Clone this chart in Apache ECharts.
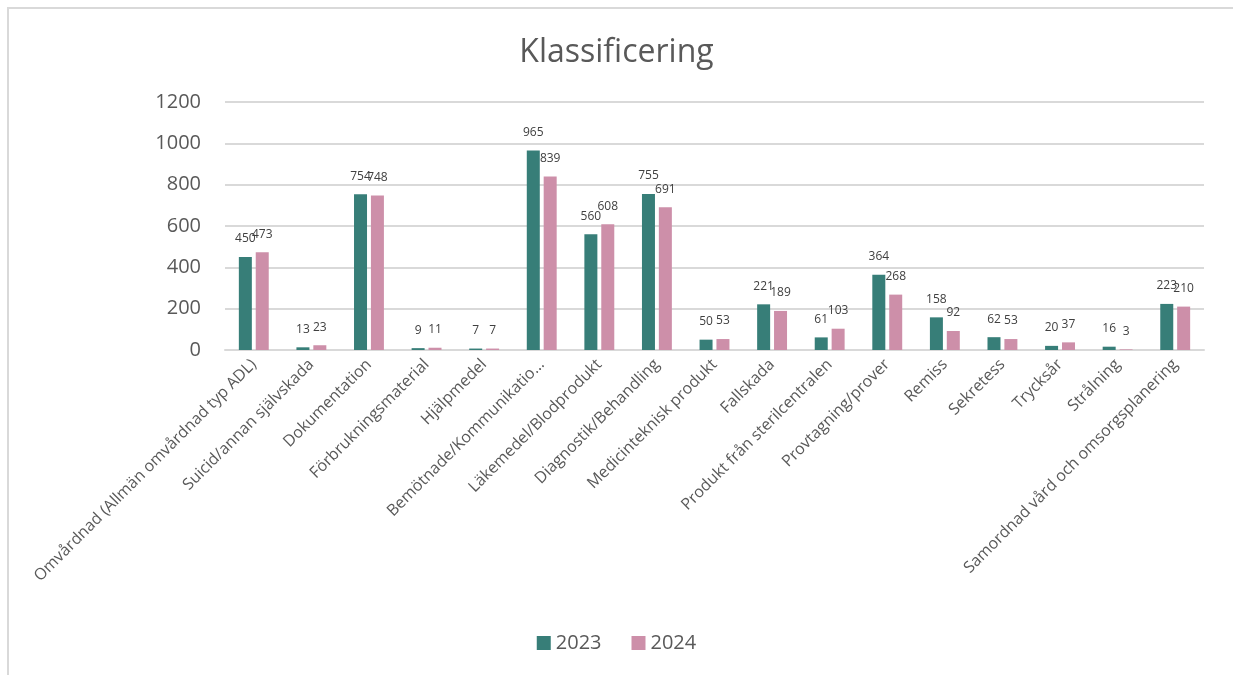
<!DOCTYPE html>
<html>
<head>
<meta charset="utf-8">
<title>Klassificering</title>
<script src="https://cdn.jsdelivr.net/npm/echarts@6/dist/echarts.min.js"></script>
<style type="text/css">
    html, body { margin: 0; padding: 0; background: #fff; }
    #frame {
        position: absolute; left: 7px; top: 7px;
        width: 1240px; height: 680px;
        border: 2px solid #d9d9d9;
    }
    #main { position: absolute; left: 0; top: 0; width: 1233px; height: 675px; }
</style>
</head>
<body>
<div id="frame"></div>
<div id="main"></div>
<script type="text/javascript">
    var categories = [
        'Omvårdnad (Allmän omvårdnad typ ADL)', 'Suicid/annan självskada', 'Dokumentation',
        'Förbrukningsmaterial', 'Hjälpmedel', 'Bemötnade/Kommunikatio…', 'Läkemedel/Blodprodukt',
        'Diagnostik/Behandling', 'Medicinteknisk produkt', 'Fallskada', 'Produkt från sterilcentralen',
        'Provtagning/prover', 'Remiss', 'Sekretess', 'Trycksår', 'Strålning',
        'Samordnad vård och omsorgsplanering'
    ];
    var values2023 = [450, 13, 754, 9, 7, 965, 560, 755, 50, 221, 61, 364, 158, 62, 20, 16, 223];
    var values2024 = [473, 23, 748, 11, 7, 839, 608, 691, 53, 189, 103, 268, 92, 53, 37, 3, 210];
    var yTicks = [0, 200, 400, 600, 800, 1000, 1200];

    var font = '"Open Sans", "DejaVu Sans", sans-serif';
    var myChart = echarts.init(document.getElementById('main'));

    var barLabel = {
        show: true,
        position: 'top',
        distance: 12,
        color: '#404040',
        fontSize: 12,
        fontFamily: font
    };

    myChart.setOption({
        animation: false,
        textStyle: { fontFamily: font },
        title: {
            text: 'Klassificering',
            left: 'center',
            top: 32,
            textStyle: { color: '#595959', fontSize: 32, fontWeight: 'normal', fontFamily: font }
        },
        legend: {
            data: ['2023', '2024'],
            left: 'center',
            top: 628,
            itemWidth: 14,
            itemHeight: 14,
            itemGap: 30,
            icon: 'rect',
            textStyle: { color: '#595959', fontSize: 20, fontFamily: font }
        },
        grid: { left: 225, right: 29, top: 102, bottom: 325 },
        xAxis: {
            type: 'category',
            data: categories,
            axisTick: { show: false },
            axisLine: { lineStyle: { color: '#d9d9d9', width: 2 } },
            axisLabel: {
                interval: 0,
                rotate: 45,
                margin: 12,
                color: '#595959',
                fontSize: 16,
                fontFamily: font
            }
        },
        yAxis: {
            type: 'value',
            min: yTicks[0],
            max: yTicks[yTicks.length - 1],
            interval: 200,
            axisLine: { show: false },
            axisTick: { show: false },
            splitLine: { lineStyle: { color: '#d9d9d9', width: 2 } },
            axisLabel: {
                color: '#595959', fontSize: 20, margin: 24, fontFamily: font,
                formatter: function (v) { return String(v); }
            }
        },
        series: [
            {
                name: '2023',
                type: 'bar',
                barWidth: 13,
                barGap: '30%',
                itemStyle: { color: '#377e78' },
                label: barLabel,
                data: values2023
            },
            {
                name: '2024',
                type: 'bar',
                barWidth: 13,
                itemStyle: { color: '#cd8fa9' },
                label: barLabel,
                data: values2024
            }
        ]
    });
</script>
</body>
</html>
